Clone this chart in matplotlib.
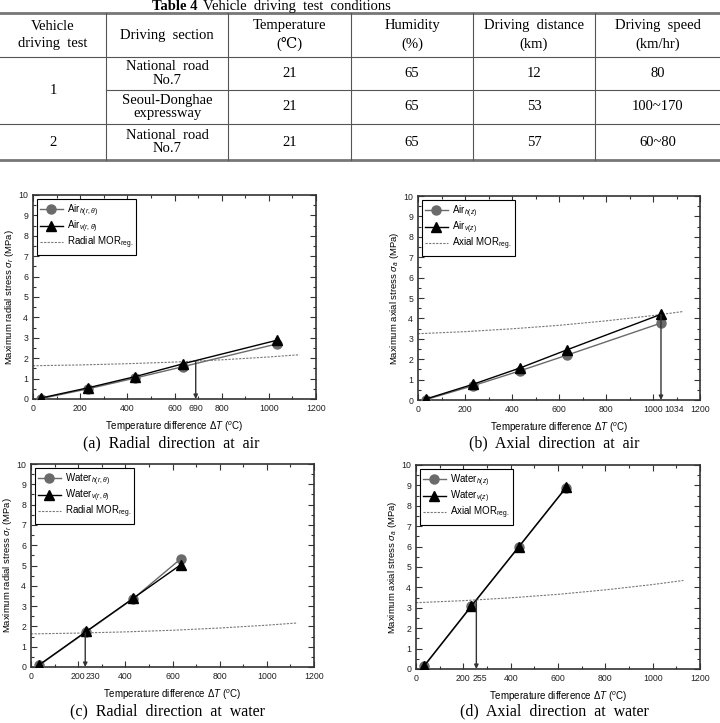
import matplotlib
matplotlib.use("Agg")
import matplotlib.pyplot as plt
from matplotlib.lines import Line2D
import numpy as np

plt.rcParams['font.family'] = ['Liberation Sans', 'DejaVu Sans']
plt.rcParams['mathtext.fontset'] = 'custom'
plt.rcParams['mathtext.rm'] = 'Liberation Sans'
plt.rcParams['mathtext.it'] = 'Liberation Sans:italic'
plt.rcParams['mathtext.bf'] = 'Liberation Sans:bold'

# ---- table data ----
table_no = "Table 4"
table_title = "Vehicle  driving  test  conditions"
header = ["Vehicle\ndriving  test", "Driving  section", "Temperature\n(\u2103)",
          "Humidity\n(%)", "Driving  distance\n(km)", "Driving  speed\n(km/hr)"]
test_no = ["1", "2"]
sections = ["National  road\nNo.7", "Seoul-Donghae\nexpressway", "National  road\nNo.7"]
temperature = ["21", "21", "21"]
humidity = ["65", "65", "65"]
distance = ["12", "53", "57"]
speed = ["80", "100~170", "60~80"]

# ---- chart data ----
dT_air = [34, 234, 434, 634, 1034]
dT_water = [34, 234, 434, 634]
air_h_r = [0.02, 0.50, 1.03, 1.58, 2.70]
air_v_r = [0.05, 0.55, 1.10, 1.72, 2.88]
air_h_z = [0.02, 0.70, 1.43, 2.20, 3.77]
air_v_z = [0.05, 0.77, 1.57, 2.46, 4.20]
water_h_r = [0.08, 1.73, 3.37, 5.32]
water_v_r = [0.10, 1.75, 3.39, 5.03]
water_h_z = [0.13, 3.07, 5.97, 8.88]
water_v_z = [0.15, 3.09, 5.99, 8.90]
mor_x = [0, 200, 400, 600, 800, 1000, 1130]
mor_radial = [1.63, 1.67, 1.73, 1.81, 1.92, 2.06, 2.17]
mor_axial = [3.25, 3.35, 3.49, 3.66, 3.88, 4.14, 4.34]
limit_dT = [690, 1034, 230, 255]
captions = ["(a)  Radial  direction  at  air", "(b)  Axial  direction  at  air",
            "(c)  Radial  direction  at  water", "(d)  Axial  direction  at  water"]

W, H = 720, 723
fig = plt.figure(figsize=(W / 100, H / 100), dpi=100)


def fx(px):
    return px / W


def fy(py):
    return 1 - py / H


def hline(y, x0, x1, lw=0.8, color='#555555'):
    fig.add_artist(Line2D([fx(x0), fx(x1)], [fy(y), fy(y)], transform=fig.transFigure,
                          color=color, lw=lw))


def vline(x, y0, y1, lw=0.8, color='#555555'):
    fig.add_artist(Line2D([fx(x), fx(x)], [fy(y0), fy(y1)], transform=fig.transFigure,
                          color=color, lw=lw))


serif = ['Liberation Serif', 'DejaVu Serif']

# ---- table ----
fig.text(fx(197), fy(10), table_no, ha='right', va='baseline', family=serif,
         fontsize=10.5, fontweight='bold')
fig.text(fx(203), fy(10), table_title, ha='left', va='baseline', family=serif, fontsize=10.5)

col_edges = [0, 106, 228, 351, 473, 595, 720]
row_edges = [13, 57, 90, 124, 160]
col_mid = [(a + b) / 2 for a, b in zip(col_edges[:-1], col_edges[1:])]
row_mid = [(a + b) / 2 for a, b in zip(row_edges[:-1], row_edges[1:])]

hline(row_edges[0], 0, W, lw=2.0, color='#777777')
hline(row_edges[1], 0, W)
hline(row_edges[2], col_edges[1], W)
hline(row_edges[3], 0, W)
hline(row_edges[4], 0, W, lw=2.0, color='#777777')
for x in col_edges[1:-1]:
    vline(x, row_edges[0], row_edges[4])

for c, txt in enumerate(header):
    fig.text(fx(col_mid[c]), fy(row_mid[0]), txt, ha='center', va='center',
             family=serif, fontsize=10.5, linespacing=1.45)

fig.text(fx(col_mid[0]), fy((row_edges[1] + row_edges[3]) / 2), test_no[0],
         ha='center', va='center', family=serif, fontsize=10.5)
fig.text(fx(col_mid[0]), fy(row_mid[3]), test_no[1],
         ha='center', va='center', family=serif, fontsize=10.5)
rows = list(zip(sections, temperature, humidity, distance, speed))
for r, vals in enumerate(rows):
    for c, txt in enumerate(vals):
        fig.text(fx(col_mid[c + 1]), fy(row_mid[r + 1]), txt, ha='center', va='center',
                 family=serif, fontsize=10.5, linespacing=1.0)

# ---- panels ----
panel_px = [(33, 195, 316, 399), (418, 196, 700, 400),
            (31, 464, 314, 667), (416, 465, 700, 669)]
caption_pos = [(171, 443), (554, 443), (168, 711), (554, 711)]
label_dx = [0, 54, 31, 13]

panels = [
    (dT_air, air_h_r, air_v_r, mor_radial, 'Air', r'r,\theta', 'Radial', r'\sigma_r', 'radial'),
    (dT_air, air_h_z, air_v_z, mor_axial, 'Air', 'z', 'Axial', r'\sigma_a', 'axial'),
    (dT_water, water_h_r, water_v_r, mor_radial, 'Water', r'r,\theta', 'Radial', r'\sigma_r', 'radial'),
    (dT_water, water_h_z, water_v_z, mor_axial, 'Water', 'z', 'Axial', r'\sigma_a', 'axial'),
]

for i, (x, hv, vv, mor, medium, sub, kind, sym, word) in enumerate(panels):
    l, t, r, b = panel_px[i]
    ax = fig.add_axes([fx(l), fy(b), (r - l) / W, (b - t) / H])
    ax.plot(x, hv, '-o', color='#6a6a6a', mfc='#6a6a6a', mec='#6a6a6a', ms=6.5, lw=1.0,
            label=r'%s$_{h(%s)}$' % (medium, sub), zorder=3)
    ax.plot(x, vv, '-^', color='black', ms=7, lw=1.0,
            label=r'%s$_{v(%s)}$' % (medium, sub), zorder=4)
    ax.plot(mor_x, mor, color='#777777', lw=0.8, ls=(0, (2, 1.2)),
            label=r'%s MOR$_{\rm reg.}$' % kind, zorder=2)

    xa = limit_dT[i]
    ya = np.interp(xa, mor_x, mor)
    ax.annotate('', xy=(xa, 0), xytext=(xa, ya),
                arrowprops=dict(arrowstyle='-|>', color='#333333', lw=1.0,
                                mutation_scale=6, shrinkA=0, shrinkB=0), zorder=5)
    ax.annotate(str(xa), xy=(xa + label_dx[i], 0), xycoords=ax.get_xaxis_transform(),
                xytext=(0, -3.5), textcoords='offset points', ha='center', va='top',
                fontsize=6.3, color='#222222')

    ax.set_xlim(0, 1200)
    ax.set_ylim(0, 10)
    ax.set_xticks(range(0, 1201, 200))
    ax.set_xticks(range(0, 1201, 100), minor=True)
    ax.set_yticks(range(0, 11))
    ax.set_yticks(np.arange(0, 10.01, 0.5), minor=True)
    ax.tick_params(which='both', direction='in', top=True, right=True,
                   labelsize=6.3, colors='#333333', labelcolor='#222222', width=0.8)
    ax.tick_params(which='major', length=4, pad=3.5)
    ax.tick_params(which='minor', length=2)
    for s in ax.spines.values():
        s.set_linewidth(1.2)
        s.set_color('#333333')

    ax.set_xlabel(r'Temperature difference $\mathit{\Delta T}$ ($^{o}$C)', fontsize=7, labelpad=5)
    ax.set_ylabel(r'Maximum %s stress $%s$ (MPa)' % (word, sym), fontsize=6.8, labelpad=1.5)

    leg = ax.legend(loc='upper left', fontsize=7, handlelength=2.3, labelspacing=0.0,
                    borderpad=0.35, borderaxespad=0.4, handletextpad=0.4, fancybox=False,
                    edgecolor='black', framealpha=1)
    leg.get_frame().set_linewidth(0.8)

    cx, cy = caption_pos[i]
    fig.text(fx(cx), fy(cy), captions[i], ha='center', va='center', family=serif, fontsize=11.5)

fig.savefig('out.png', dpi=100)
